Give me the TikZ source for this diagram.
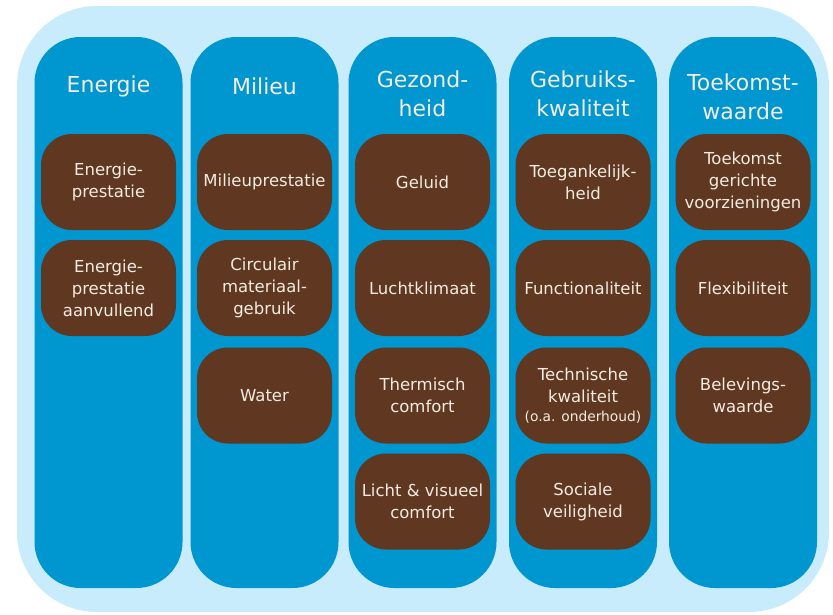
\documentclass[tikz,border=0pt]{standalone}
\usepackage{fontspec}
\usepackage{tikz}
\setmainfont{DejaVu Sans}

\definecolor{skyback}{RGB}{200,236,252}
\definecolor{pillarblue}{RGB}{0,150,208}
\definecolor{barkbrown}{RGB}{96,55,32}
\definecolor{paletext}{RGB}{242,236,226}

\begin{document}
\begin{tikzpicture}[x=1pt,y=-1pt,
  pillar/.style={fill=pillarblue, rounded corners=46pt, minimum width=148pt, minimum height=551pt, inner sep=0pt},
  head/.style={text=paletext, align=center, font=\fontsize{22}{28.5}\selectfont},
  tile/.style={fill=barkbrown, text=paletext, rounded corners=31pt, minimum width=135pt, minimum height=96pt, inner sep=0pt, align=center, font=\fontsize{16.5}{22}\selectfont}]

\useasboundingbox (0,0) rectangle (833,614);
\fill[skyback, rounded corners=80pt] (17,6) rectangle (829,612); % Light backdrop

\foreach \Name/\X in {energie/108.5, milieu/264.5, gezondheid/422.5, gebruik/583, toekomst/743}{
    \node[pillar] (\Name) at (\X,312.5) {};
}

\node [head] (hEnergie) at (108.5,86) {Energie};
\node [head] (hMilieu) at (264.5,86) {Milieu};
\node [head] (hGezond) at (422.5,94) {Gezond-\\heid};
\node [head] (hGebruik) at (583,94) {Gebruiks-\\kwaliteit};
\node [head] (hToekomst) at (743,97) {Toekomst-\\waarde};

% Energie
\node [tile] (ePrestatie) at (108.5,182) {Energie-\\prestatie};
\node [tile] (eAanvullend) at (108.5,288) {Energie-\\prestatie\\aanvullend};

% Milieu
\node [tile] (mPrestatie) at (264.5,182) {Milieuprestatie};
\node [tile] (mCirculair) at (264.5,288) {Circulair\\materiaal-\\gebruik};
\node [tile] (mWater) at (264.5,395.5) {Water};

% Gezondheid
\node [tile] (gGeluid) at (422.5,182) {Geluid};
\node [tile] (gLucht) at (422.5,288) {Luchtklimaat};
\node [tile] (gThermisch) at (422.5,395.5) {Thermisch\\comfort};
\node [tile] (gLicht) at (422.5,501.5) {Licht \& visueel\\comfort};

% Gebruikskwaliteit
\node [tile] (kToegang) at (583,182) {Toegankelijk-\\heid};
\node [tile] (kFunctie) at (583,288) {Functionaliteit};
\node [tile] (kTechniek) at (583,395.5) {Technische\\kwaliteit\\[-3pt]{\fontsize{13.8}{16}\selectfont (o.a. onderhoud)}};
\node [tile] (kSociaal) at (583,501.5) {Sociale\\veiligheid};

% Toekomstwaarde
\node [tile] (tGericht) at (743,182) {Toekomst\\gerichte\\voorzieningen};
\node [tile] (tFlex) at (743,288) {Flexibiliteit};
\node [tile] (tBeleving) at (743,395.5) {Belevings-\\waarde};

\end{tikzpicture}
\end{document}
